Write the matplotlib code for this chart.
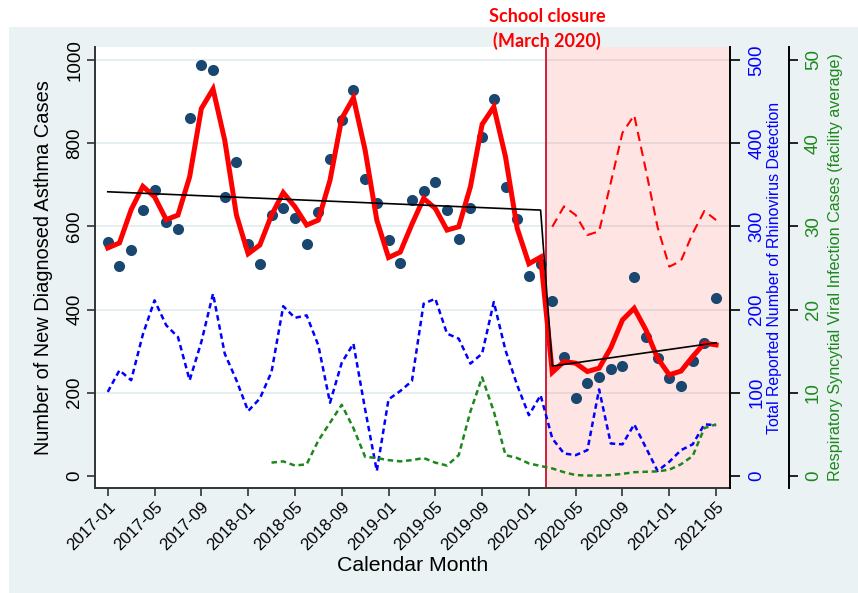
import numpy as np
import matplotlib
matplotlib.use("Agg")
import matplotlib.pyplot as plt
from matplotlib.patches import Rectangle

FONT = "Liberation Sans"
plt.rcParams["font.family"] = [FONT, "DejaVu Sans"]

# ---------------- data ----------------
tick_labels = ["2017-01", "2017-05", "2017-09", "2018-01", "2018-05", "2018-09",
               "2019-01", "2019-05", "2019-09", "2020-01", "2020-05", "2020-09",
               "2021-01", "2021-05"]

asthma_cases = [563, 504, 543, 640, 687, 610, 593, 860, 987, 975, 671, 755,
                557, 510, 628, 643, 621, 557, 635, 761, 855, 927, 713, 655,
                568, 513, 664, 685, 707, 639, 569, 645, 815, 906, 695, 617,
                481, 510, 421, 286, 187, 224, 237, 257, 264, 478, 335, 283,
                236, 216, 276, 320, 427]

asthma_smooth = [548, 560, 640, 696, 671, 616, 627, 719, 883, 930, 807, 627,
                 534, 555, 627, 681, 647, 603, 615, 711, 859, 909, 783, 615,
                 525, 538, 605, 667, 643, 591, 599, 695, 845, 887, 767, 595,
                 510, 526, 249, 275, 271, 251, 259, 308, 375, 403, 351, 283,
                 243, 252, 287, 319, 315]

# segmented trend (month index, value)
trend_month = [0, 37, 38, 52]
trend_value = [683, 639, 264, 320]

# counterfactual (no closure) prediction, 2020-03 .. 2021-05
counterfactual = [599, 648, 627, 579, 588, 705, 825, 867, 735, 598, 503, 517,
                  583, 637, 615]
counterfactual_start = 38

rhinovirus = [101, 127, 115, 170, 211, 181, 167, 115, 161, 219, 147, 115,
              78, 93, 125, 204, 190, 193, 157, 88, 136, 159, 80, 6,
              92, 102, 114, 207, 213, 171, 165, 135, 147, 209, 151, 109,
              73, 97, 45, 27, 25, 31, 104, 39, 38, 62, 34, 6,
              17, 31, 38, 62, 61]

# RSV (facility average), from 2018-03
rsv = [1.6, 1.75, 1.25, 1.4, 4.25, 6.4, 8.55, 5.75, 2.3, 2.15, 1.9, 1.75,
       1.9, 2.15, 1.6, 1.25, 2.5, 7.75, 11.85, 7.75, 2.5, 2.15, 1.5, 1.2,
       0.9, 0.45, 0.1, 0.05, 0.05, 0.1, 0.25, 0.45, 0.5, 0.55, 0.75, 1.4,
       2.4, 5.75, 6.2]
rsv_start = 14

closure_month = 37.5

# ---------------- figure ----------------
W, H = 858, 593
fig = plt.figure(figsize=(W / 100, H / 100), dpi=100, facecolor="white")
fig.patches.append(Rectangle((9 / W, 0), 1, 1 - 27 / H, transform=fig.transFigure,
                             facecolor="#eaf2f3", edgecolor="none", zorder=-10))

left, right, top, bottom = 95, 730, 47, 488
ax = fig.add_axes([left / W, 1 - bottom / H, (right - left) / W, (bottom - top) / H])
ax.set_facecolor("white")

months = np.arange(len(asthma_cases))
xlim = (-1.09, 53.19)
ylim = (-29, 1031)

ax.set_xlim(*xlim)
ax.set_ylim(*ylim)

# shading and closure line
ax.axvspan(closure_month, xlim[1] + 1, color="red", alpha=0.105, lw=0, zorder=0.8)
ax.axvline(closure_month, color="#c8102e", lw=1.3, zorder=1.5)

# grid
ax.set_yticks([0, 200, 400, 600, 800, 1000])
for v in [200, 400, 600, 800, 1000]:
    ax.axhline(v, color="#e3eef0", lw=1.3, zorder=0.5)

# asthma series
ax.plot(months, asthma_cases, "o", color="#1a476f", ms=8, mec="none", zorder=3)
ax.plot(months, asthma_smooth, color="#ff0000", lw=3.6, zorder=4,
        solid_joinstyle="miter")
ax.plot(trend_month, trend_value, color="black", lw=1.2, zorder=5)
cf_x = np.arange(counterfactual_start, counterfactual_start + len(counterfactual))
ax.plot(cf_x, counterfactual, color="#ff0000", lw=1.5, dashes=(4.5, 2.8), zorder=4)

# axes styling
for s in ["top", "right"]:
    ax.spines[s].set_visible(False)
for s in ["left", "bottom"]:
    ax.spines[s].set_color("#333333")
    ax.spines[s].set_linewidth(1.4)

ax.set_xticks(months[::4])
ax.set_xticklabels(tick_labels, rotation=45, ha="right", rotation_mode="anchor",
                   fontsize=12, fontfamily=FONT)
ax.tick_params(axis="x", length=6, width=1.2, color="#333333", pad=2)
ax.tick_params(axis="y", length=5.5, width=1.2, color="#333333", pad=3,
               labelsize=13.5)
ax.set_yticklabels(["0", "200", "400", "600", "800", "1000"], rotation=90,
                   va="center", fontfamily=FONT)
ax.set_ylabel("Number of New Diagnosed Asthma Cases", fontsize=14.4, fontfamily=FONT)
ax.yaxis.set_label_coords(-42 / 635, 0.5)
ax.set_xlabel("Calendar Month", fontsize=15.3, fontfamily=FONT)
ax.xaxis.set_label_coords(0.5, -0.155)

# rhinovirus axis
ax2 = ax.twinx()
ax2.set_ylim(ylim[0] / 2, ylim[1] / 2)
ax2.plot(months, rhinovirus, color="#0000ff", lw=1.8, dashes=(2.2, 1.5), zorder=2)
ax2.set_yticks([0, 100, 200, 300, 400, 500])
ax2.set_yticklabels(["0", "100", "200", "300", "400", "500"], rotation=90,
                    va="center", fontfamily=FONT, color="#0000ff")
ax2.tick_params(axis="y", length=7.2, width=1.2, color="black", pad=6,
                labelsize=13.5)
for s in ["top", "left", "bottom"]:
    ax2.spines[s].set_visible(False)
ax2.spines["right"].set_color("black")
ax2.spines["right"].set_linewidth(1.4)
ax2.set_ylabel("Total Reported Number of Rhinovirus Detection", fontsize=11.4,
               color="#0000ff", fontfamily=FONT)
ax2.yaxis.set_label_coords(1.0 + 37 / 635, 0.5)

# RSV axis
ax3 = ax.twinx()
ax3.spines["right"].set_position(("outward", 59 * 0.72))
ax3.set_ylim(ylim[0] / 20, ylim[1] / 20)
rsv_x = np.arange(rsv_start, rsv_start + len(rsv))
ax3.plot(rsv_x, rsv, color="#1c881c", lw=1.8, dashes=(2.2, 1.5), zorder=2)
ax3.set_yticks([0, 10, 20, 30, 40, 50])
ax3.set_yticklabels(["0", "10", "20", "30", "40", "50"], rotation=90,
                    va="center", fontfamily=FONT, color="#1c881c")
ax3.tick_params(axis="y", length=6.5, width=1.2, color="black", pad=5,
                labelsize=13.5)
for s in ["top", "left", "bottom"]:
    ax3.spines[s].set_visible(False)
ax3.spines["right"].set_color("black")
ax3.spines["right"].set_linewidth(1.4)
ax3.set_ylabel("Respiratory Syncytial Viral Infection Cases (facility average)",
               fontsize=11.6, color="#1c881c", fontfamily=FONT)
ax3.yaxis.set_label_coords(1.0 + 98 / 635, 0.5)

# annotation
fig.text(547 / W, 1 - 16 / H, "School closure", color="#ff0000", fontsize=13,
         fontweight="bold", fontfamily="Lato", ha="center", va="center")
fig.text(547 / W, 1 - 41 / H, "(March 2020)", color="#ff0000", fontsize=13,
         fontweight="bold", fontfamily="Lato", ha="center", va="center")

fig.savefig("out.png", dpi=100, facecolor="white")
